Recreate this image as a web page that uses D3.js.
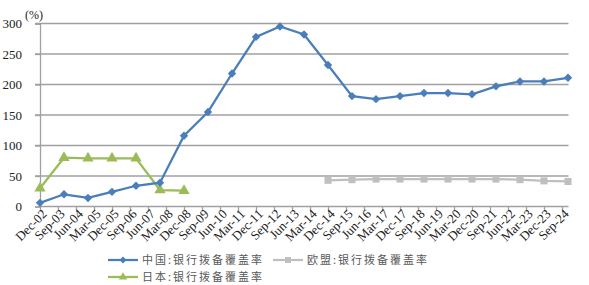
<!DOCTYPE html>
<html>
<head>
<meta charset="utf-8">
<script src="https://cdn.jsdelivr.net/npm/d3@7"></script>
<style>
  body { margin: 0; background: #fff; }
  svg { display: block; }
</style>
</head>
<body>
<svg id="chart" width="589" height="285"></svg>
<script>
// annual points, Dec of each year
var years = d3.range(2002, 2025);
var chinaValues = [6, 20, 14, 24, 34, 39, 116, 155, 218, 278, 295, 282, 232, 181, 176, 181, 186, 186, 184, 197, 205, 205, 211];
var japanYears = [2002, 2003, 2004, 2005, 2006, 2007, 2008];
var japanValues = [30, 80, 79, 79, 79, 27, 26];
var euYears = [2014, 2015, 2016, 2017, 2018, 2019, 2020, 2021, 2022, 2023, 2024];
var euValues = [43, 44, 45, 45, 45, 45, 45, 45, 44, 42, 41];
// tick labels every 9 months from Dec-02
var tickLabels = ["Dec-02","Sep-03","Jun-04","Mar-05","Dec-05","Sep-06","Jun-07","Mar-08","Dec-08","Sep-09",
  "Jun-10","Mar-11","Dec-11","Sep-12","Jun-13","Mar-14","Dec-14","Sep-15","Jun-16","Mar-17",
  "Dec-17","Sep-18","Jun-19","Mar-20","Dec-20","Sep-21","Jun-22","Mar-23","Dec-23","Sep-24"];
var yTicks = [0, 50, 100, 150, 200, 250, 300];
var seriesNames = ["中国:银行拨备覆盖率", "欧盟:银行拨备覆盖率", "日本:银行拨备覆盖率"];

var svg = d3.select("#chart");
var serif = "'Liberation Serif','Times New Roman',serif";
var cjk = "'Noto Sans CJK SC','Noto Sans',sans-serif";

// months since Dec-02
function monthOf(year) { return (year - 2002) * 12; }

var x = d3.scaleLinear().domain([0, 264]).range([40, 568]);
var y = d3.scaleLinear().domain([0, 300]).range([206.5, 23.5]);

// gridlines
svg.append("g").selectAll("line").data(yTicks.slice(1)).join("line")
  .attr("x1", 35).attr("x2", 568.5)
  .attr("y1", d => y(d)).attr("y2", d => y(d))
  .attr("stroke", "#a0a0a0").attr("stroke-width", 1.3);

// y axis
var yAxis = svg.append("g").attr("transform", "translate(40,0)")
  .call(d3.axisLeft(y).tickValues(yTicks).tickSize(5).tickPadding(13));
yAxis.select(".domain").attr("stroke", "#a0a0a0").attr("stroke-width", 1.3);
yAxis.selectAll(".tick line").attr("stroke", "#a0a0a0").attr("stroke-width", 1.3);
yAxis.selectAll("text").attr("font-family", serif).attr("font-size", 13).attr("fill", "#222");

svg.append("text").attr("x", 25).attr("y", 19)
  .attr("font-family", serif).attr("font-size", 12).attr("fill", "#222")
  .text("(%)");

// x axis
var xTickVals = tickLabels.map((d, i) => i * 9);
var xAxis = svg.append("g").attr("transform", "translate(0," + y(0) + ")")
  .call(d3.axisBottom(x).tickValues(xTickVals).tickSize(5).tickSizeOuter(0)
    .tickFormat((d, i) => tickLabels[i]));
xAxis.select(".domain").attr("stroke", "#a0a0a0").attr("stroke-width", 1.3)
  .attr("d", "M" + x(0) + ",0H568.5");
xAxis.selectAll(".tick line").attr("stroke", "#a0a0a0").attr("stroke-width", 1.3);
xAxis.selectAll("text")
  .attr("font-family", serif).attr("font-size", 13).attr("fill", "#222")
  .attr("text-anchor", "end")
  .attr("transform", "translate(4,5) rotate(-45)")
  .attr("dx", 0).attr("dy", "0.35em").attr("y", 0);

var line = d3.line().x(d => x(monthOf(d[0]))).y(d => y(d[1]));

var china = years.map((yr, i) => [yr, chinaValues[i]]);
var japan = japanYears.map((yr, i) => [yr, japanValues[i]]);
var eu = euYears.map((yr, i) => [yr, euValues[i]]);

var colors = { china: "#4a7ebb", eu: "#bfbfbf", japan: "#9bbb59" };

svg.append("path").datum(eu).attr("d", line)
  .attr("fill", "none").attr("stroke", colors.eu).attr("stroke-width", 2.25);
svg.append("g").selectAll("path").data(eu).join("path")
  .attr("d", d3.symbol(d3.symbolSquare, 50))
  .attr("transform", d => "translate(" + x(monthOf(d[0])) + "," + y(d[1]) + ")")
  .attr("fill", colors.eu);

svg.append("path").datum(japan).attr("d", line)
  .attr("fill", "none").attr("stroke", colors.japan).attr("stroke-width", 2.25);
svg.append("g").selectAll("path").data(japan).join("path")
  .attr("d", d3.symbol(d3.symbolTriangle, 55))
  .attr("transform", d => "translate(" + x(monthOf(d[0])) + "," + y(d[1]) + ")")
  .attr("fill", colors.japan);

svg.append("path").datum(china).attr("d", line)
  .attr("fill", "none").attr("stroke", colors.china).attr("stroke-width", 2.25);
svg.append("g").selectAll("path").data(china).join("path")
  .attr("d", d3.symbol(d3.symbolDiamond2, 45))
  .attr("transform", d => "translate(" + x(monthOf(d[0])) + "," + y(d[1]) + ")")
  .attr("fill", colors.china);

// legend
var legendItems = [
  { name: seriesNames[0], color: colors.china, sym: d3.symbolDiamond2, size: 30, lx: 108, ly: 260 },
  { name: seriesNames[1], color: colors.eu, sym: d3.symbolSquare, size: 36, lx: 273, ly: 260 },
  { name: seriesNames[2], color: colors.japan, sym: d3.symbolTriangle, size: 30, lx: 108, ly: 277 }
];
var lg = svg.append("g").selectAll("g").data(legendItems).join("g")
  .attr("transform", d => "translate(" + d.lx + "," + d.ly + ")");
lg.append("line").attr("x1", 0).attr("x2", 30).attr("y1", 0).attr("y2", 0)
  .attr("stroke", d => d.color).attr("stroke-width", 2.25);
lg.append("path").attr("d", d => d3.symbol(d.sym, d.size)())
  .attr("transform", "translate(15,0)").attr("fill", d => d.color);
lg.append("text").attr("x", 34).attr("y", 0).attr("dy", "0.35em")
  .attr("font-family", cjk).attr("font-size", 11).attr("letter-spacing", "2px")
  .attr("fill", "#595959").text(d => d.name);
</script>
</body>
</html>
